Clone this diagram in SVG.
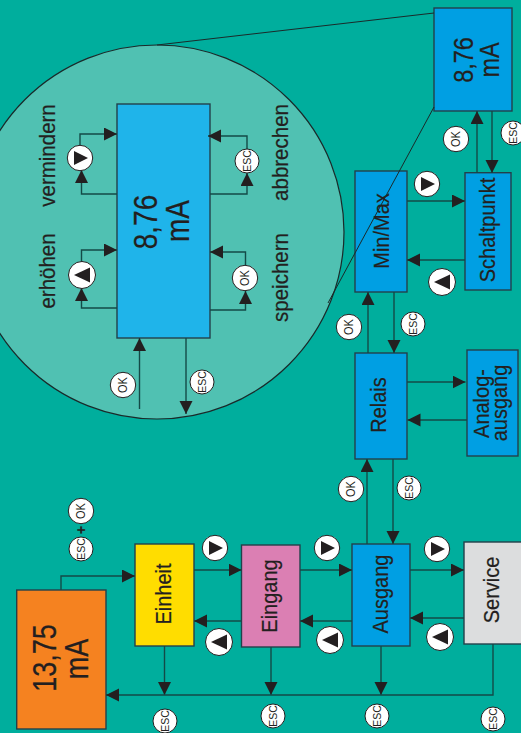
<svg xmlns="http://www.w3.org/2000/svg" width="521" height="733" viewBox="0 0 521 733">
<style>
.box{stroke:#23404a;stroke-width:1.4}
.c{fill:none;stroke:#134a47;stroke-width:1.4;marker-end:url(#a)}
.z{fill:none;stroke:#1a2a2a;stroke-width:1}
.b{fill:#fff;stroke:#231f20;stroke-width:1}
.t{fill:#231f20}
text{font-family:"Liberation Sans",Arial,sans-serif;fill:#231f20;text-anchor:middle;stroke:#231f20;stroke-width:.2}
.n{font-size:20px}
.l{font-size:20.5px}
.s{font-size:10.5px;stroke-width:0}
.o{font-size:11px;stroke-width:0}
</style>
<defs>
<marker id="a" markerUnits="userSpaceOnUse" markerWidth="14" markerHeight="14" refX="13" refY="6.5" orient="auto"><path d="M0 0L13 6.5L0 13Z" fill="#231f20"/></marker>
<g id="btnR"><circle class="b" r="12.7"/><path class="t" d="M-6 -7L8 0L-6 7Z"/></g>
<g id="btnL"><circle class="b" r="13.5"/><path class="t" d="M8 -7.500L-8 0L8 7.500Z"/></g>
<g id="btnE"><circle class="b" r="12"/><text class="s" transform="translate(4,0) rotate(-90) scale(1,1.1)">ESC</text></g>
<g id="btnO"><circle class="b" r="12.7"/><text class="o" transform="translate(4.300,0) rotate(-90) scale(1,1.1)">OK</text></g>
</defs>
<rect width="521" height="733" fill="#00AE9D"/>
<circle id="lens" cx="157" cy="232" r="187" fill="#50C1B2" stroke="#1a2a2a" stroke-width="1.2"/>

<g id="node-orange"><rect class="box" x="16.700" y="590" width="89.300" height="139" fill="#F58220"/>
<text font-size="27" transform="translate(56,658) rotate(-90) scale(1,1.2)">13,75</text>
<text font-size="27" transform="translate(88,659) rotate(-90) scale(1,1.2)">mA</text></g>
<g id="node-einheit"><rect class="box" x="135" y="544" width="59" height="102" fill="#FFDD00"/><text class="n" transform="translate(170.500,594) rotate(-90) scale(1,1.12)">Einheit</text></g>
<g id="node-eingang"><rect class="box" x="241.500" y="545" width="58.500" height="102" fill="#DB7FB3"/><text class="n" transform="translate(277,596) rotate(-90) scale(1,1.12)">Eingang</text></g>
<g id="node-ausgang"><rect class="box" x="352" y="544" width="58" height="102" fill="#009FE3"/><text class="n" transform="translate(388,594) rotate(-90) scale(1,1.12)">Ausgang</text></g>
<g id="node-service"><rect class="box" x="464" y="542" width="60" height="102" fill="#DCDDDE"/><text class="n" transform="translate(499,590) rotate(-90) scale(1,1.12)">Service</text></g>
<g id="node-relais"><rect class="box" x="355" y="353" width="52" height="106" fill="#009FE3"/><text class="n" transform="translate(386,405) rotate(-90) scale(1,1.12)">Relais</text></g>
<g id="node-analog"><rect class="box" x="467" y="350" width="51" height="106" fill="#009FE3"/><text class="n" transform="translate(489,403.500) rotate(-90) scale(1,1.12)">Analog-</text><text class="n" transform="translate(507,403) rotate(-90) scale(1,1.12)">ausgang</text></g>
<g id="node-minmax"><rect class="box" x="355" y="171" width="52" height="121" fill="#009FE3"/><text class="n" transform="translate(389,231) rotate(-90) scale(1,1.12)">Min/Max</text></g>
<g id="node-schaltpunkt"><rect class="box" x="465" y="172.700" width="46" height="117.300" fill="#009FE3"/><text class="n" transform="translate(495,230) rotate(-90) scale(1,1.12)">Schaltpunkt</text></g>
<g id="node-value"><rect class="box" x="434" y="8" width="78" height="103" fill="#009FE3"/>
<text font-size="23.5" transform="translate(473,60) rotate(-90) scale(1,1.2)">8,76</text>
<text font-size="23.5" transform="translate(499,60) rotate(-90) scale(1,1.2)">mA</text></g>
<g id="node-detail"><rect class="box" x="117" y="104" width="93" height="234" fill="#1FB4EA"/>
<text font-size="28" transform="translate(157,222) rotate(-90) scale(1,1.18)">8,76</text>
<text font-size="28" transform="translate(189,221) rotate(-90) scale(1,1.18)">mA</text></g>

<g id="connectors">
<path class="c" d="M61 590V576H135"/>
<path class="c" d="M194 570H241.500"/>
<path class="c" d="M241.500 621H194"/>
<path class="c" d="M300 570H352"/>
<path class="c" d="M352 621H300"/>
<path class="c" d="M410 570H464"/>
<path class="c" d="M464 618H410"/>
<path class="c" d="M164.500 646V695"/>
<path class="c" d="M271 647V695"/>
<path class="c" d="M381 646V695"/>
<path class="c" d="M493 644V695H106"/>
<path class="c" d="M367 544V459"/>
<path class="c" d="M393 459V544"/>
<path class="c" d="M368 353V292"/>
<path class="c" d="M394 292V353"/>
<path class="c" d="M407 382H465.500"/>
<path class="c" d="M467 420H407.500"/>
<path class="c" d="M407 201H465"/>
<path class="c" d="M465 260H407"/>
<path class="c" d="M477 173V111"/>
<path class="c" d="M492 111V173"/>
<path class="c" d="M117 194H81.500V170"/>
<path class="c" d="M80 145V134H117"/>
<path class="c" d="M210 194H247V173"/>
<path class="c" d="M247 149V136H208"/>
<path class="c" d="M117 308H81.500V288"/>
<path class="c" d="M81.500 262V250H117"/>
<path class="c" d="M210 310H245.500V291"/>
<path class="c" d="M245.500 265V252H210"/>
<path class="c" d="M139.500 409V338"/>
<path class="c" d="M186 338V414"/>
<path class="z" d="M157 45L434 13"/>
<path class="z" d="M434 107L328 303"/>
</g>

<g id="buttons">
<use href="#btnR" x="215" y="548"/>
<use href="#btnL" x="219" y="642"/>
<use href="#btnR" x="327" y="548"/>
<use href="#btnL" x="330" y="640"/>
<use href="#btnR" x="437" y="549"/>
<use href="#btnL" x="440" y="637"/>
<use href="#btnR" x="427" y="184"/>
<use href="#btnL" x="442" y="282"/>
<use href="#btnR" x="80" y="158"/>
<use href="#btnL" x="82" y="275"/>
<use href="#btnO" x="81" y="511"/>
<use href="#btnE" x="81" y="549"/>
<use href="#btnE" x="165" y="721"/>
<use href="#btnE" x="273" y="716"/>
<use href="#btnE" x="377" y="716"/>
<use href="#btnE" x="493" y="719"/>
<use href="#btnO" x="351" y="489"/>
<use href="#btnE" x="409" y="488"/>
<use href="#btnO" x="349" y="327"/>
<use href="#btnE" x="413" y="324"/>
<use href="#btnO" x="456" y="139"/>
<use href="#btnE" x="513" y="133"/>
<use href="#btnE" x="247" y="161"/>
<use href="#btnO" x="245" y="278"/>
<use href="#btnO" x="123" y="385"/>
<use href="#btnE" x="202" y="382"/>
<text font-size="14" font-weight="bold" transform="translate(86,530) rotate(-90)">+</text>
</g>

<g id="labels">
<text class="l" transform="translate(55,155.500) rotate(-90) scale(1,1.12)">vermindern</text>
<text class="l" transform="translate(55,271) rotate(-90) scale(1,1.12)">erhöhen</text>
<text class="l" transform="translate(288,152.500) rotate(-90) scale(1,1.12)">abbrechen</text>
<text class="l" transform="translate(288,277.500) rotate(-90) scale(1,1.12)">speichern</text>
</g>
</svg>
